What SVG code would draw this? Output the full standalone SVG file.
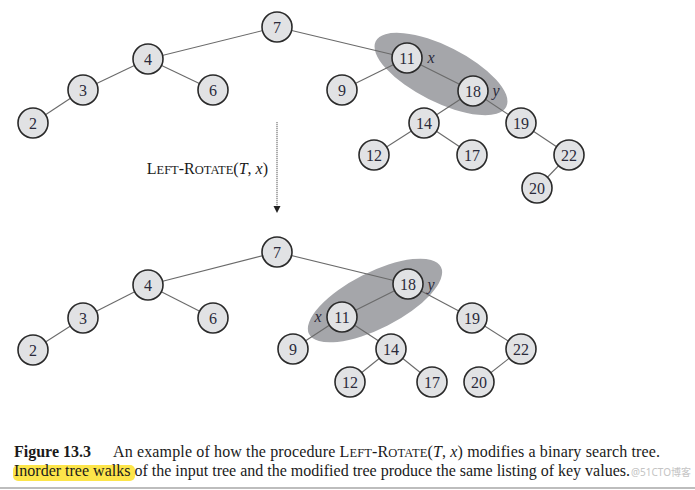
<svg xmlns="http://www.w3.org/2000/svg" width="695" height="490" viewBox="0 0 695 490">
<style>
.n circle{fill:#e1e2e4;stroke:#2a2a2a;stroke-width:1.6}
.n text{font-family:"Liberation Serif",serif;font-size:16px;fill:#2a2a3a;text-anchor:middle}
.e line{stroke:#6a6a6a;stroke-width:1.1}
.hl{fill:#a5a6aa}
.lab{font-family:"Liberation Serif",serif;font-size:16px;font-style:italic;fill:#2a2a3a;text-anchor:middle}
.cap{font-family:"Liberation Serif",serif;font-size:16px;fill:#1a1a1a}
.sc{font-size:12.5px}
</style>
<defs>
<marker id="ah" markerWidth="8" markerHeight="8" refX="1" refY="3.5" orient="auto" markerUnits="userSpaceOnUse">
<path d="M0,0 L7,3.5 L0,7 Z" fill="#222"/>
</marker>
</defs>
<rect width="695" height="490" fill="#fff"/>

<!-- highlight ellipses -->
<ellipse class="hl" cx="441" cy="74" rx="73" ry="28" transform="rotate(26.6 441 74)"/>
<ellipse class="hl" cx="375" cy="300.5" rx="74" ry="28" transform="rotate(-27 375 300.5)"/>

<g id="connectors" class="e">
<line x1="277" y1="27" x2="148" y2="59"/>
<line x1="277" y1="27" x2="407" y2="58"/>
<line x1="148" y1="59" x2="83" y2="90"/>
<line x1="148" y1="59" x2="213" y2="90"/>
<line x1="83" y1="90" x2="33" y2="123"/>
<line x1="407" y1="58" x2="342" y2="90"/>
<line x1="407" y1="58" x2="473" y2="91"/>
<line x1="473" y1="91" x2="424" y2="123"/>
<line x1="473" y1="91" x2="521" y2="123"/>
<line x1="424" y1="123" x2="374" y2="155"/>
<line x1="424" y1="123" x2="472" y2="155"/>
<line x1="521" y1="123" x2="569" y2="155"/>
<line x1="569" y1="155" x2="537" y2="188"/>

<line x1="277" y1="252" x2="148" y2="285"/>
<line x1="277" y1="252" x2="408" y2="284"/>
<line x1="148" y1="285" x2="83" y2="318"/>
<line x1="148" y1="285" x2="213" y2="318"/>
<line x1="83" y1="318" x2="33" y2="350"/>
<line x1="408" y1="284" x2="342" y2="317"/>
<line x1="408" y1="284" x2="472" y2="318"/>
<line x1="342" y1="317" x2="293" y2="349"/>
<line x1="342" y1="317" x2="391" y2="349"/>
<line x1="391" y1="349" x2="350" y2="382"/>
<line x1="391" y1="349" x2="432" y2="382"/>
<line x1="472" y1="318" x2="521" y2="349"/>
<line x1="521" y1="349" x2="479" y2="382"/>
<line x1="277" y1="122" x2="277" y2="207" stroke="#222" stroke-width="1.6" stroke-dasharray="1.2,0.8" marker-end="url(#ah)"/>
</g>

<!-- top tree -->
<g id="t7" class="n"><circle cx="277" cy="27" r="15"/><text x="277" y="32.5">7</text></g>
<g id="t4" class="n"><circle cx="148" cy="59" r="15"/><text x="148" y="64.5">4</text></g>
<g id="t3" class="n"><circle cx="83" cy="90" r="15"/><text x="83" y="95.5">3</text></g>
<g id="t6" class="n"><circle cx="213" cy="90" r="15"/><text x="213" y="95.5">6</text></g>
<g id="t2" class="n"><circle cx="33" cy="123" r="15"/><text x="33" y="128.5">2</text></g>
<g id="t11" class="n"><circle cx="407" cy="58" r="15"/><text x="407" y="63.5">11</text></g>
<g id="t9" class="n"><circle cx="342" cy="90" r="15"/><text x="342" y="95.5">9</text></g>
<g id="t18" class="n"><circle cx="473" cy="91" r="15"/><text x="473" y="96.5">18</text></g>
<g id="t14" class="n"><circle cx="424" cy="123" r="15"/><text x="424" y="128.5">14</text></g>
<g id="t19" class="n"><circle cx="521" cy="123" r="15"/><text x="521" y="128.5">19</text></g>
<g id="t12" class="n"><circle cx="374" cy="155" r="15"/><text x="374" y="160.5">12</text></g>
<g id="t17" class="n"><circle cx="472" cy="155" r="15"/><text x="472" y="160.5">17</text></g>
<g id="t22" class="n"><circle cx="569" cy="155" r="15"/><text x="569" y="160.5">22</text></g>
<g id="t20" class="n"><circle cx="537" cy="188" r="15"/><text x="537" y="193.5">20</text></g>
<text class="lab" x="431" y="63">x</text>
<text class="lab" x="496" y="96">y</text>

<!-- bottom tree -->
<g id="b7" class="n"><circle cx="277" cy="252" r="15"/><text x="277" y="257.5">7</text></g>
<g id="b4" class="n"><circle cx="148" cy="285" r="15"/><text x="148" y="290.5">4</text></g>
<g id="b3" class="n"><circle cx="83" cy="318" r="15"/><text x="83" y="323.5">3</text></g>
<g id="b6" class="n"><circle cx="213" cy="318" r="15"/><text x="213" y="323.5">6</text></g>
<g id="b2" class="n"><circle cx="33" cy="350" r="15"/><text x="33" y="355.5">2</text></g>
<g id="b18" class="n"><circle cx="408" cy="284" r="15"/><text x="408" y="289.5">18</text></g>
<g id="b11" class="n"><circle cx="342" cy="317" r="15"/><text x="342" y="322.5">11</text></g>
<g id="b9" class="n"><circle cx="293" cy="349" r="15"/><text x="293" y="354.5">9</text></g>
<g id="b14" class="n"><circle cx="391" cy="349" r="15"/><text x="391" y="354.5">14</text></g>
<g id="b19" class="n"><circle cx="472" cy="318" r="15"/><text x="472" y="323.5">19</text></g>
<g id="b22" class="n"><circle cx="521" cy="349" r="15"/><text x="521" y="354.5">22</text></g>
<g id="b12" class="n"><circle cx="350" cy="382" r="15"/><text x="350" y="387.5">12</text></g>
<g id="b17" class="n"><circle cx="432" cy="382" r="15"/><text x="432" y="387.5">17</text></g>
<g id="b20" class="n"><circle cx="479" cy="382" r="15"/><text x="479" y="387.5">20</text></g>
<text class="lab" x="318" y="322">x</text>
<text class="lab" x="431" y="290">y</text>

<!-- operation label -->
<text class="cap" x="268" y="174" text-anchor="end">L<tspan class="sc">EFT</tspan>-R<tspan class="sc">OTATE</tspan>(<tspan font-style="italic">T</tspan>, <tspan font-style="italic">x</tspan>)</text>

<!-- caption -->
<rect x="13" y="465" width="122" height="16" rx="5" fill="#fde54a"/>
<text class="cap" x="14" y="457"><tspan font-weight="bold">Figure 13.3</tspan></text>
<text class="cap" x="113" y="457" textLength="547" lengthAdjust="spacing">An example of how the procedure L<tspan class="sc">EFT</tspan>-R<tspan class="sc">OTATE</tspan>(<tspan font-style="italic">T</tspan>, <tspan font-style="italic">x</tspan>) modifies a binary search tree.</text>
<text class="cap" x="14" y="476" textLength="616" lengthAdjust="spacing">Inorder tree walks of the input tree and the modified tree produce the same listing of key values.</text>
<text x="691" y="476" text-anchor="end" font-family="'Noto Sans','Noto Sans CJK SC',sans-serif" font-size="10" fill="#c4c4c4">@51CTO博客</text>
<line x1="0" y1="488" x2="695" y2="488" stroke="#bdbdbd" stroke-width="2"/>
</svg>
